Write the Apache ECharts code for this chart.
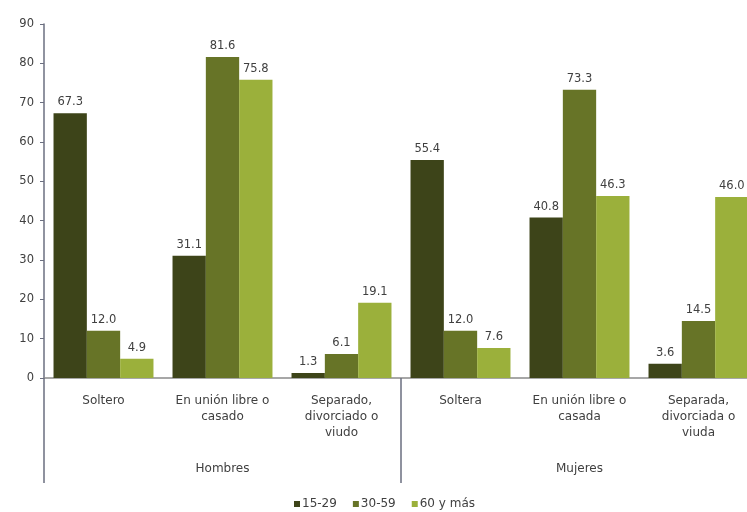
<!DOCTYPE html>
<html><head><meta charset="utf-8">
<script src="https://cdn.jsdelivr.net/npm/echarts@6/dist/echarts.min.js"></script>
<style>html,body{margin:0;padding:0;background:#fff;overflow:hidden}#c{width:758px;height:512px}</style>
</head><body><div id="c"></div>
<script>
const categories = ['Soltero','En unión libre o\ncasado','Separado,\ndivorciado o\nviudo','Soltera','En unión libre o\ncasada','Separada,\ndivorciada o\nviuda'];
const groups = ['Hombres','Mujeres'];
const seriesNames = ['15-29','30-59','60 y más'];
const s1529 = [67.3, 31.1, 1.3, 55.4, 40.8, 3.6];
const s3059 = [12.0, 81.6, 6.1, 12.0, 73.3, 14.5];
const s60 = [4.9, 75.8, 19.1, 7.6, 46.3, 46.0];
const colors = ['#3d4419','#677427','#9bb03b'];
const yTicks = {min:0, max:90, interval:10};

const chart = echarts.init(document.getElementById('c'));
const font = '"DejaVu Sans", Verdana, sans-serif';
const mk = (name, data, color) => ({
  name, type:'bar', data, xAxisIndex:0, barGap:'0%', barCategoryGap:'16%',
  itemStyle:{color},
  label:{show:true, position:'top', distance:5, color:'#404040', fontSize:11.5, fontFamily:font,
    formatter:p=>p.value.toFixed(1)}
});
chart.setOption({
  animation:false,
  grid:{left:44, top:24, right:0, bottom:134, containLabel:false},
  legend:{bottom:-3, left:289, itemWidth:6, itemHeight:6, itemGap:16, icon:'rect',
    textStyle:{fontSize:12, color:'#404040', fontFamily:font, padding:[0,0,0,-3]}, data:seriesNames},
  xAxis:[
    {type:'category', data:categories, position:'bottom',
      axisLine:{show:true, lineStyle:{color:'#8a8a8a', width:1.5}},
      axisTick:{show:false},
      axisLabel:{interval:0, color:'#404040', fontSize:12, fontFamily:font, lineHeight:16, margin:15}},
    {type:'category', data:groups, position:'bottom',
      axisLine:{show:false},
      axisTick:{show:true, length:105, lineStyle:{color:'#6b6f80', width:1.5}},
      axisLabel:{interval:0, color:'#404040', fontSize:12, fontFamily:font, margin:85}}
  ],
  yAxis:{type:'value', min:yTicks.min, max:yTicks.max, interval:yTicks.interval,
    splitLine:{show:false},
    axisLine:{show:true, lineStyle:{color:'#6b6f80', width:1.5}},
    axisTick:{show:true, length:4, lineStyle:{color:'#6b6f80'}},
    axisLabel:{color:'#404040', fontSize:11.5, fontFamily:font, margin:10}},
  series:[mk(seriesNames[0], s1529, colors[0]), mk(seriesNames[1], s3059, colors[1]), mk(seriesNames[2], s60, colors[2])]
});
</script></body></html>
